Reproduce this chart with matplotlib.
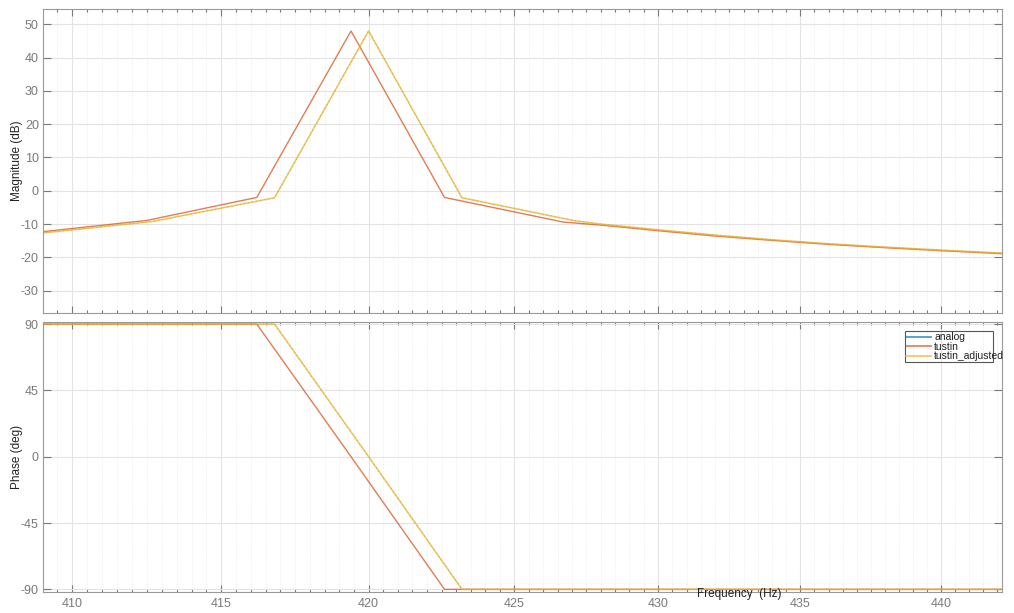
import matplotlib
matplotlib.use("Agg")
import matplotlib.pyplot as plt
from matplotlib.ticker import FixedLocator, FixedFormatter, NullFormatter
from matplotlib.patches import Rectangle
from matplotlib.lines import Line2D

plt.rcParams['font.family'] = ['Liberation Sans', 'DejaVu Sans']

# ---- data ----
# tustin_adjusted (and analog, which coincides with it)
adj_freq = [409.0, 412.7, 416.8, 420.0, 423.2, 427.1, 428.0, 430.0, 432.0, 434.0, 436.0, 438.0, 440.0, 442.2]
adj_mag = [-12.7, -9.2, -2.1, 48.0, -2.1, -9.0, -10.0, -11.7, -13.3, -14.7, -15.9, -16.9, -17.8, -18.7]
adj_phase = [90, 90, 90, 0, -90, -90, -90, -90, -90, -90, -90, -90, -90, -90]

analog_freq = adj_freq
analog_mag = adj_mag
analog_phase = adj_phase

# tustin (frequency-warped)
tus_freq = [409.0, 412.5, 416.2, 419.4, 422.6, 426.7, 428.0, 430.0, 432.0, 434.0, 436.0, 438.0, 440.0, 442.2]
tus_mag = [-12.3, -8.9, -2.0, 48.0, -2.0, -9.4, -10.3, -12.0, -13.6, -14.9, -16.1, -17.1, -18.0, -18.9]
tus_phase = [90, 90, 90, 0, -90, -90, -90, -90, -90, -90, -90, -90, -90, -90]

series_labels = ['analog', 'tustin', 'tustin_adjusted']
series_colors = ['#0072BD', '#D95319', '#EDB120']

x_major = [410, 415, 420, 425, 430, 435, 440]
x_minor = [409.5 + 0.5 * i for i in range(66)]
mag_ticks = [-30, -20, -10, 0, 10, 20, 30, 40, 50]
phase_ticks = [-90, -45, 0, 45, 90]

W, H = 1014, 613
fig = plt.figure(figsize=(W / 100, H / 100), dpi=100)

def fx(px):
    return px / W

def fy(py):
    return 1 - py / H

left, right = 43, 1002.3
ax1 = fig.add_axes([fx(left), fy(313.3), fx(right - left), (313.3 - 9) / H])
ax2 = fig.add_axes([fx(left), fy(592.3), fx(right - left), (592.3 - 321.7) / H])

tick_col = '#7a7a7a'
spine_col = '#9a9a9a'

for ax in (ax1, ax2):
    ax.set_xscale('log')
    ax.set_xlim(409.03, 442.2)
    ax.xaxis.set_major_locator(FixedLocator(x_major))
    ax.xaxis.set_minor_locator(FixedLocator([v for v in x_minor if v not in x_major]))
    ax.xaxis.set_minor_formatter(NullFormatter())
    ax.grid(True, which='major', color='#e3e3e3', linewidth=0.8, linestyle='-')
    ax.grid(True, which='minor', axis='x', color='#e4e4e4', linewidth=0.6, linestyle=(0, (1, 2)))
    ax.set_axisbelow(True)
    for s in ax.spines.values():
        s.set_color(spine_col)
        s.set_linewidth(0.8)
    ax.tick_params(axis='both', which='both', direction='in', top=True, right=True,
                   colors=tick_col, labelsize=9, width=0.8)
    ax.tick_params(axis='x', which='major', length=5, pad=4)
    ax.tick_params(axis='x', which='minor', length=2.5)
    ax.tick_params(axis='y', which='major', length=6, pad=3)
    ax.tick_params(axis='y', which='minor', left=False, right=False)

def draw(ax, yb, ya, yt):
    ax.plot(analog_freq, yb, color=series_colors[0], lw=0.6, ls=(0, (1, 4)), label=series_labels[0], alpha=0.8)
    ax.plot(tus_freq, yt, color=series_colors[1], lw=1.0, alpha=0.75, label=series_labels[1])
    ax.plot(adj_freq, ya, color=series_colors[2], lw=1.1, alpha=0.75, label=series_labels[2])

# magnitude
draw(ax1, analog_mag, adj_mag, tus_mag)
ax1.set_ylim(-36.8, 54.6)
ax1.set_yticks(mag_ticks)
ax1.set_yticklabels([str(v) for v in mag_ticks])
ax1.xaxis.set_major_formatter(NullFormatter())
ax1.set_ylabel('Magnitude (dB)', fontsize=8.5, color='#222222')
ax1.yaxis.set_label_coords(-0.021, 0.5)

# phase
draw(ax2, analog_phase, adj_phase, tus_phase)
ax2.set_ylim(-92, 91.6)
ax2.set_yticks(phase_ticks)
ax2.set_yticklabels([str(v) for v in phase_ticks])
ax2.xaxis.set_major_formatter(FixedFormatter([str(v) for v in x_major]))
ax2.set_ylabel('Phase (deg)', fontsize=8.5, color='#222222')
ax2.yaxis.set_label_coords(-0.021, 0.5)

# legend (frame drawn separately so the long label overflows it, as in the reference)
handles = [Line2D([], [], color=c, lw=1.3, alpha=0.7) for c in series_colors]
leg = fig.legend(handles, series_labels, loc='upper left', bbox_to_anchor=(fx(906), fy(332.5)),
                 fontsize=7.5, frameon=False, borderpad=0.0, labelspacing=-0.05,
                 handlelength=2.4, handletextpad=0.3, borderaxespad=0)
for t in leg.get_texts():
    t.set_color('#222222')
fig.patches.append(Rectangle((fx(905), fy(362)), fx(993 - 905), (362 - 331) / H,
                             transform=fig.transFigure, fill=False, edgecolor='#555555', lw=0.8))

fig.text(fx(739), fy(594), 'Frequency  (Hz)', fontsize=8.5, color='#222222', ha='center', va='center')

fig.savefig('out.png', dpi=100)
